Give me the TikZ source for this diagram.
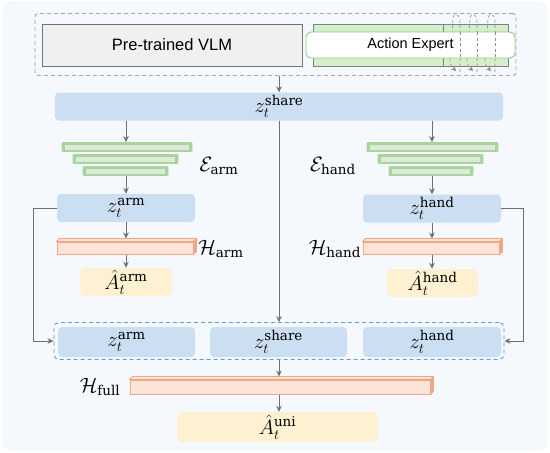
\documentclass[tikz,border=0pt]{standalone}
\usepackage{fontspec}
\newfontfamily\lsans{Liberation Sans}
\newfontfamily\dserif{DejaVu Serif}
\usetikzlibrary{arrows.meta,calc}
\definecolor{bgc}{HTML}{F5F8FC}
\definecolor{arrc}{HTML}{707070}
\definecolor{zblue}{HTML}{CBDEF2}
\definecolor{ayel}{HTML}{FDF1D1}
\definecolor{hfill}{HTML}{FBE4D7}
\definecolor{hdraw}{HTML}{F2A784}
\definecolor{hside}{HTML}{E9A98A}
\definecolor{egreen}{HTML}{A8D59D}
\definecolor{einner}{HTML}{DDE8D7}
\definecolor{aegreen}{HTML}{D6EFCB}
\definecolor{aeline}{HTML}{8FCB82}
\definecolor{dblue}{HTML}{5A9BD8}
\definecolor{dgray}{HTML}{A5A5A5}
\newcommand\sps[1]{\mbox{\dserif\fontsize{13.5}{14}\selectfont #1}}
\begin{document}
\begin{tikzpicture}[x=1pt,y=-1pt,
  arr/.style={draw=arrc, line width=1, -{Stealth[length=6,width=5.5]}},
  conn/.style={draw=arrc, line width=1},
  zbox/.style={fill=zblue, rounded corners=4, inner sep=0, font=\fontsize{20}{22}\selectfont},
  abox/.style={fill=ayel, rounded corners=5, inner sep=0, font=\fontsize{20}{22}\selectfont},
  hfront/.style={fill=hfill, draw=hdraw, line width=1, inner sep=0},
  encbar/.style={fill=egreen, draw=egreen, rounded corners=1, line width=0.8, inner sep=0, minimum height=9},
  lbl/.style={inner sep=0, font=\fontsize{20}{22}\selectfont},
  loopd/.style={draw=arrc!80, line width=0.6, dash pattern=on 3 off 2.5}
]
\useasboundingbox (0,0) rectangle (550,453);
\fill[bgc, rounded corners=10] (2,1) rectangle (548,451);

% top block
\node[draw=dgray, line width=0.9, dash pattern=on 4 off 3, rounded corners=3, minimum width=481, minimum height=62, inner sep=0] (top) at (275.5,44.5) {};
\node[fill=black!6, draw=black!55, line width=0.8, minimum width=260, minimum height=42, inner sep=0, font=\lsans\fontsize{16.5}{18}\selectfont] (vlm) at (172,45) {Pre-trained VLM};
\node[fill=aegreen, draw=black!50, line width=0.8, minimum width=195, minimum height=42, inner sep=0] (aeb) at (410.5,45) {};
\draw[black!50, line width=0.8] (443,24) -- (443,66);
\foreach \xv in {460,477,495}{
  \draw[loopd, -{Stealth[length=5,width=5]}] (\xv,72) -- (\xv,22) .. controls (\xv,13) and (\xv-6,12) .. (\xv-7,19) -- (\xv-10,60) .. controls (\xv-10,65) and (\xv-8,67) .. (\xv-4,71);
}
\node[fill=white, draw=aeline, line width=0.9, rounded corners=5, minimum width=209, minimum height=26, inner sep=0, font=\lsans\fontsize{14.5}{16}\selectfont] (ae) at (410.5,45) {Action Expert};
\foreach \xv in {460,477,495}{
  \draw[loopd] (\xv,32) -- (\xv,58);
}

% shared latent
\node[zbox, minimum width=448, minimum height=28] (zs) at (279,106.5) {$z_t^{\sps{share}}$};
\draw[arr] (zs.north |- top.south) -- (zs.north);

% arm branch
\node[encbar, minimum width=130] (ea1) at (127,147) {};
\node[encbar, minimum width=105] (ea2) at (125.5,159) {};
\node[encbar, minimum width=85] (ea3) at (125.5,171) {};
\foreach \n in {ea1,ea2,ea3}{
  \fill[einner] ($(\n.north west)+(3,3)$) rectangle ($(\n.south east)+(-3,-2)$);
}
\node[zbox, minimum width=138, minimum height=28] (za) at (126,208) {$z_t^{\sps{arm}}$};
\node[hfront, minimum width=136, minimum height=12] (ha) at (125,248) {};
\node[abox, minimum width=92, minimum height=28] (aa) at (126,282) {$\hat{A}_t^{\sps{arm}}$};
\node[lbl] (lea) at (219,166) {$\mathcal{E}_{\sps{arm}}$};
\node[lbl] (lha) at (221,249) {$\mathcal{H}_{\sps{arm}}$};

% hand branch
\node[encbar, minimum width=131] (eh1) at (432.5,147) {};
\node[encbar, minimum width=105] (eh2) at (430.5,159) {};
\node[encbar, minimum width=84] (eh3) at (431,171) {};
\foreach \n in {eh1,eh2,eh3}{
  \fill[einner] ($(\n.north west)+(3,3)$) rectangle ($(\n.south east)+(-3,-2)$);
}
\node[zbox, minimum width=138, minimum height=28] (zh) at (432,208.5) {$z_t^{\sps{hand}}$};
\node[hfront, minimum width=136, minimum height=12] (hh) at (431,248) {};
\node[abox, minimum width=91, minimum height=28] (ah) at (432.5,283) {$\hat{A}_t^{\sps{hand}}$};
\node[lbl] (leh) at (333,166) {$\mathcal{E}_{\sps{hand}}$};
\node[lbl] (lhh) at (335,249) {$\mathcal{H}_{\sps{hand}}$};

% combined group
\node[draw=dblue, line width=0.9, dash pattern=on 4 off 3, rounded corners=5, minimum width=450, minimum height=37, inner sep=0] (grp) at (279,341) {};
\node[zbox, minimum width=137, minimum height=30] (za2) at (126.5,342) {$z_t^{\sps{arm}}$};
\node[zbox, minimum width=137, minimum height=30] (zs2) at (278.5,342) {$z_t^{\sps{share}}$};
\node[zbox, minimum width=138, minimum height=30] (zh2) at (432,342) {$z_t^{\sps{hand}}$};

\node[hfront, minimum width=300, minimum height=14] (hf) at (280,387) {};
\node[lbl] (lhf) at (100,387) {$\mathcal{H}_{\sps{full}}$};
\node[abox, minimum width=201, minimum height=30] (au) at (277.5,427) {$\hat{A}_t^{\sps{uni}}$};

% 3D faces of head bars
\foreach \n in {ha,hh,hf}{
  \filldraw[fill=hfill, draw=hdraw, line width=0.8] (\n.north west) -- ++(3,-3) -- ($(\n.north east)+(3,-3)$) -- (\n.north east) -- cycle;
  \filldraw[fill=hside, draw=hdraw, line width=0.8] (\n.north east) -- ++(3,-3) -- ($(\n.south east)+(3,-3)$) -- (\n.south east) -- cycle;
}

% connectors
\draw[arr] (za |- zs.south) -- (za |- ea1.north);
\draw[arr] (za |- ea3.south) -- (za.north);
\draw[arr] (za.south) -- ([yshift=3pt]za |- ha.north);
\draw[arr] (za |- ha.south) -- (za |- aa.north);

\draw[arr] (zh |- zs.south) -- (zh |- eh1.north);
\draw[arr] (zh |- eh3.south) -- (zh.north);
\draw[arr] (zh.south) -- ([yshift=3pt]zh |- hh.north);
\draw[arr] (zh |- hh.south) -- (zh |- ah.north);

\draw[arr] (zs.south) -- (zs.south |- grp.north);
\draw[arr] (za.west) -- ++(-23,0) |- (grp.west);
\draw[arr] (zh.east) -- ++(22,0) |- (grp.east);

\draw[arr] (zs.south |- grp.south) -- ([yshift=3pt]zs.south |- hf.north);
\draw[arr] (zs.south |- hf.south) -- (zs.south |- au.north);
\end{tikzpicture}
\end{document}
